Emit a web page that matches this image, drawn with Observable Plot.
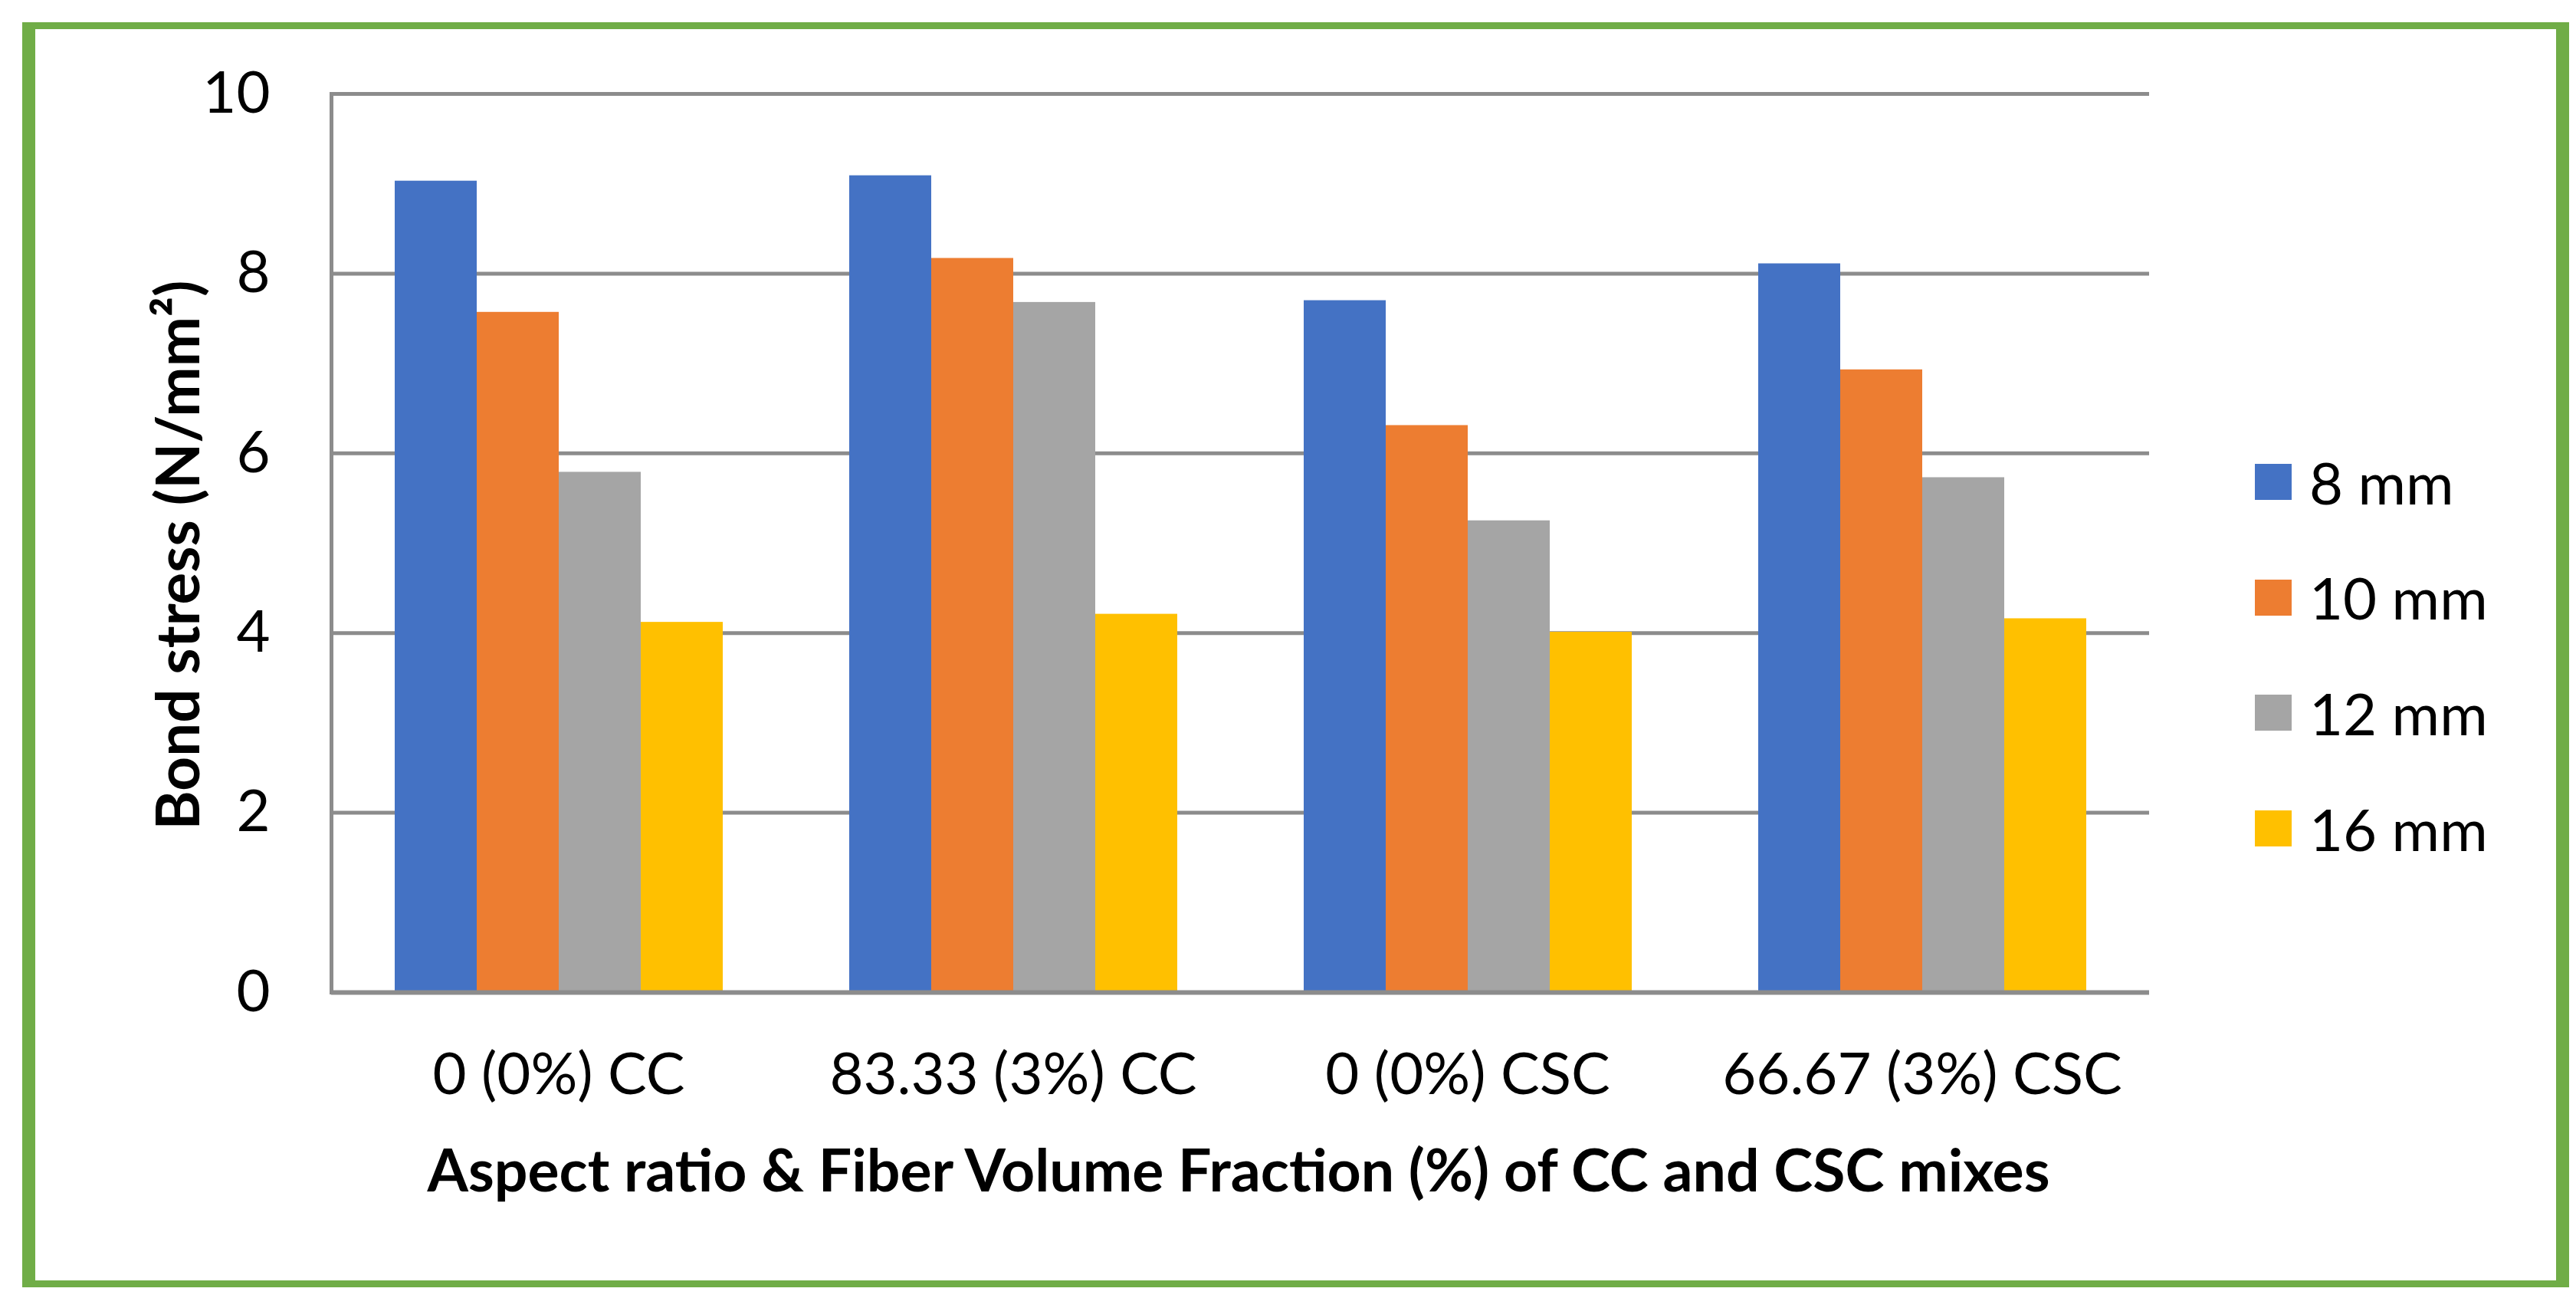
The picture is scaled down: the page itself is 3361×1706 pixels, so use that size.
<!DOCTYPE html>
<html>
<head>
<meta charset="utf-8">
<script src="https://cdn.jsdelivr.net/npm/d3@7"></script>
<script src="https://cdn.jsdelivr.net/npm/@observablehq/plot@0.6"></script>
<style>
  html, body { margin: 0; padding: 0; background: #ffffff; }
  #wrap { position: relative; width: 3361px; height: 1706px; overflow: hidden; background: #fff; font-family: Lato, "Open Sans", sans-serif; color: #000; }
  #border { position: absolute; left: 29px; top: 29px; width: 3323px; height: 1650px; box-sizing: border-box;
            border-style: solid; border-color: #70AD47; border-width: 9px 17px 9px 17px; pointer-events: none; }
  #chart { position: absolute; left: 0; top: 0; }
  .ytitle { position: absolute; left: 230px; top: 724px; transform: translate(-50%, -50%) rotate(-90deg);
            font-weight: 700; font-size: 78px; line-height: 1; white-space: nowrap; }
  .xtitle { position: absolute; left: 1616px; top: 1486px; transform: translateX(-50%);
            font-weight: 700; font-size: 77px; line-height: 1; white-space: nowrap; }
  #legend { position: absolute; left: 2942px; top: 590px; }
  .lrow { display: flex; align-items: center; height: 77px; margin-bottom: 73.7px; }
  .sw { width: 48px; height: 47px; margin-right: 23px; }
  .lt { font-size: 76px; line-height: 1; white-space: nowrap; }
</style>
</head>
<body>
<div id="wrap">
  <div id="chart"></div>
  <div class="ytitle">Bond stress (N/mm²)</div>
  <div class="xtitle">Aspect ratio &amp; Fiber Volume Fraction (%) of CC and CSC mixes</div>
  <div id="legend"></div>
  <div id="border"></div>
</div>
<script>
// ---- data ----
const categories = ["0 (0%) CC", "83.33 (3%) CC", "0 (0%) CSC", "66.67 (3%) CSC"];
const series = ["8 mm", "10 mm", "12 mm", "16 mm"];
const bond8mm  = [9.03, 9.09, 7.70, 8.11];
const bond10mm = [7.57, 8.17, 6.31, 6.93];
const bond12mm = [5.79, 7.68, 5.25, 5.73];
const bond16mm = [4.12, 4.21, 4.01, 4.16];
const seriesColors = ["#4472C4", "#ED7D31", "#A5A5A5", "#FFC000"];
const yTicks = [0, 2, 4, 6, 8, 10];

const values = [bond8mm, bond10mm, bond12mm, bond16mm];
const table = [];
categories.forEach((c, ci) => {
  series.forEach((s, si) => table.push({category: c, series: s, value: values[si][ci]}));
});

const gridColor = "#8C8C8C";

const chart = Plot.plot({
  width: 3361,
  height: 1706,
  marginLeft: 430,
  marginRight: 556,
  marginTop: 122,
  marginBottom: 412,
  style: {fontFamily: "Lato, 'Open Sans', sans-serif", fontSize: "76px", color: "#000", background: "transparent", overflow: "visible"},
  fx: {domain: categories, padding: 0, label: null, axis: "bottom", tickSize: 0, tickPadding: 79},
  x: {domain: series, axis: null, paddingInner: 0, paddingOuter: 0.751},
  y: {domain: [0, 10], ticks: yTicks, tickSize: 0, tickPadding: 80, label: null, tickFormat: d3.format("d")},
  color: {domain: series, range: seriesColors},
  marks: [
    Plot.ruleY(yTicks.filter(t => t > 0), {stroke: gridColor, strokeWidth: 5}),
    Plot.barY(table, {fx: "category", x: "series", y: "value", fill: "series"}),
    Plot.ruleY([0], {stroke: gridColor, strokeWidth: 6}),
    Plot.frame({anchor: "left", facet: "super", stroke: gridColor, strokeWidth: 5})
  ]
});
document.getElementById("chart").appendChild(chart);

// ---- legend ----
const legend = d3.select("#legend");
series.forEach((s, i) => {
  const row = legend.append("div").attr("class", "lrow");
  row.append("div").attr("class", "sw").style("background", seriesColors[i]);
  row.append("div").attr("class", "lt").text(s);
});
</script>
</body>
</html>
